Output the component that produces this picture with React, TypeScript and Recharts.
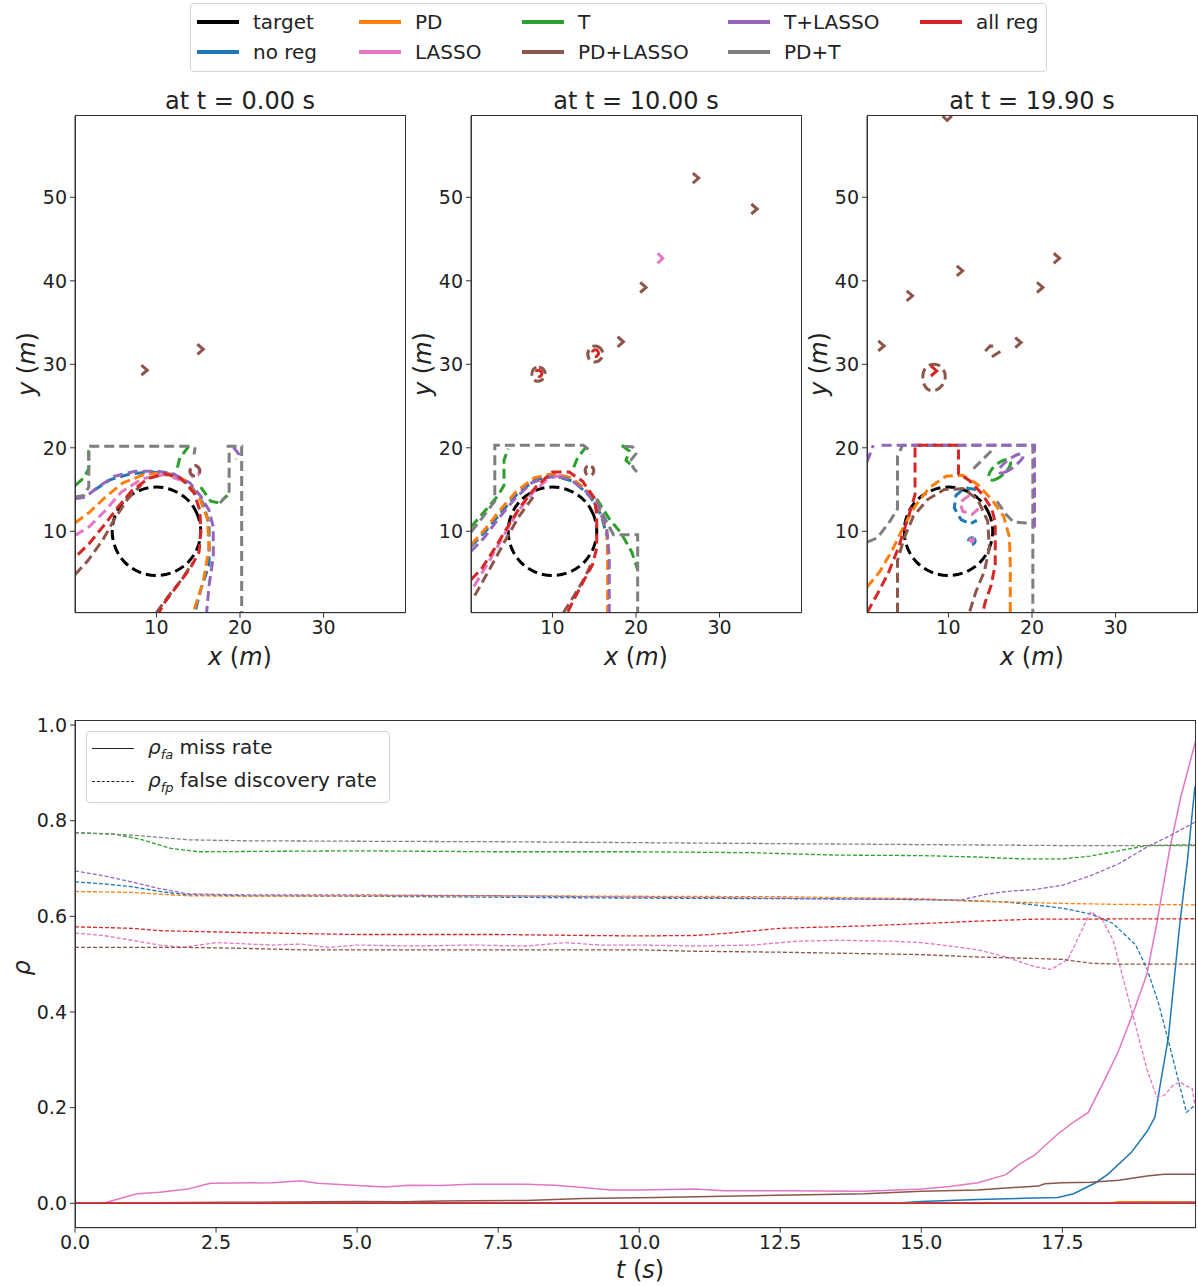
import React from 'react';
import { LineChart, Line, XAxis, YAxis } from 'recharts';

const FONT = '"DejaVu Sans", "Liberation Sans", sans-serif';

const C = {
  target: '#000000',
  noreg: '#1f77b4',
  pd: '#ff7f0e',
  lasso: '#e377c2',
  t: '#2ca02c',
  pdlasso: '#8c564b',
  tlasso: '#9467bd',
  pdt: '#7f7f7f',
  all: '#d62728',
};

const LEGEND_ITEMS = [
  { label: 'target', color: C.target, col: 0, row: 0 },
  { label: 'no reg', color: C.noreg, col: 0, row: 1 },
  { label: 'PD', color: C.pd, col: 1, row: 0 },
  { label: 'LASSO', color: C.lasso, col: 1, row: 1 },
  { label: 'T', color: C.t, col: 2, row: 0 },
  { label: 'PD+LASSO', color: C.pdlasso, col: 2, row: 1 },
  { label: 'T+LASSO', color: C.tlasso, col: 3, row: 0 },
  { label: 'PD+T', color: C.pdt, col: 3, row: 1 },
  { label: 'all reg', color: C.all, col: 4, row: 0 },
];
const LEGEND_COLS = [197, 359, 522, 728, 920];
const LEGEND_ROWS = [22, 52];

const PANEL_TITLES = ['at t = 0.00 s', 'at t = 10.00 s', 'at t = 19.90 s'];
const PANEL_LEFTS = [0, 396, 792];
const X_TICKS = [10, 20, 30];
const Y_TICKS = [10, 20, 30, 40, 50];

// target circle, same in every panel
const TARGET = [[15.45, 10], [15.0, 12.1], [13.85, 13.85], [12.1, 15.0], [10, 15.45], [7.9, 15.0], [6.15, 13.85], [5.0, 12.1], [4.55, 10], [5.0, 7.9], [6.15, 6.15], [7.9, 5.0], [10, 4.55], [12.1, 5.0], [13.85, 6.15], [15.0, 7.9]];

// ---- t = 0.00 s
const P0_NOREG = [[2.5, 14.9], [4.5, 16.2], [7, 16.9], [9.5, 17.1], [12, 16.8], [14, 15.6], [15.5, 13.5], [16.3, 11], [16.3, 6], [15.3, 3], [14.6, 0.25]];
const P0_PD = [[0.25, 11], [2, 12.3], [4, 14.2], [6, 15.8], [8.5, 16.8], [11, 17], [13.4, 16.1], [15.2, 13.9], [16.1, 11.5], [16.3, 8], [15.6, 4], [14.4, 0.25]];
const P0_LASSO = [[0.25, 9.5], [2, 10.6], [3.8, 12.4], [5.8, 14.7], [8.3, 16.3], [11, 16.8], [13.3, 16]];
const P0_LASSO_LOOP = [[14.0, 17.7], [14.9, 17.9], [15.3, 17.1], [14.8, 16.4], [14.0, 16.6]];
const P0_T_A = [[0.3, 15.5], [1.3, 16.4], [1.9, 17.5], [1.9, 19.6], [2.5, 20.2]];
const P0_T_B = [[13.9, 20.2], [12.8, 18.8], [12.4, 17.2]];
const P0_T_C = [[15.3, 15.3], [16.5, 13.6], [17.5, 13.4], [18.5, 14.3]];
const P0_PDLASSO_A = [[0.25, 4.8], [1.8, 6.5], [3.6, 9], [5, 11.5], [6.5, 13.8], [8.2, 15.6]];
const P0_PDLASSO_B = [[10.0, 0.25], [11.4, 2.2], [13, 4.2], [14.3, 6.2]];
const P0_PDLASSO_LOOP = [[13.9, 17.5], [14.7, 18.1], [15.4, 17.3], [14.9, 16.5], [14.1, 16.7]];
const P0_CHEV_1 = [[8.2, 29.9], [8.9, 29.3], [8.2, 28.7]];
const P0_CHEV_2 = [[14.9, 32.4], [15.6, 31.8], [14.9, 31.2]];
const P0_TLASSO_A = [[0.25, 13.9], [1.5, 14.1], [3, 15.3], [5, 16.6], [7.5, 17.2], [10, 17.2], [12, 16.9], [14, 15.8], [15.3, 14.2], [16.3, 12.5], [16.8, 10.5], [16.8, 7], [16.3, 3.5], [16.0, 0.25]];
const P0_TLASSO_B = [[19.2, 20.1], [19.9, 19.2], [19.5, 18.6]];
const P0_PDT_A = [[0.25, 14.1], [1.3, 14.3], [1.9, 15.3], [1.9, 20.2], [13.9, 20.2], [14.6, 19.9], [14.5, 19.2]];
const P0_PDT_B = [[18.4, 20.2], [20.2, 20.2], [20.2, 0.25]];
const P0_PDT_C = [[18.7, 19.4], [18.7, 14.6], [17.6, 13.4]];
const P0_ALL = [[0.6, 7.2], [2, 8.6], [3.8, 10.8], [5.3, 12.8], [7, 14.8], [9, 16.3], [11, 16.9], [13, 16.3], [14.5, 14.6], [15.2, 12.5], [15.3, 10], [15.1, 7.5], [14.0, 5.5], [12.5, 3.5], [11, 1.5], [10.3, 0.25]];

// ---- t = 10.00 s
const P1_NOREG = [[0.25, 8.2], [2, 10], [3.8, 12.2], [5.8, 14.5], [8, 16.2], [10.3, 16.6], [12.5, 16], [14.5, 14.2], [15.8, 12], [16.5, 9.5]];
const P1_PD = [[0.25, 8.4], [1.9, 10.2], [3.7, 12.5], [5.6, 14.7], [7.8, 16.4], [10, 16.9], [12.3, 16.4], [14.2, 14.8], [15.7, 12.5], [16.5, 10], [16.6, 7], [16.6, 0.25]];
const P1_LASSO = [[0.6, 3.4], [2.3, 6.2], [4, 9.2], [5.8, 12.3], [7.7, 14.7], [9.5, 16.3], [11.5, 16.8]];
const P1_LASSO_CHEV = [[22.6, 43.3], [23.2, 42.7], [22.6, 42.1]];
const P1_T_A = [[0.25, 10.5], [1.8, 12.3], [3.5, 14.3], [4.2, 15.5], [4.2, 18.5], [4.7, 19.9]];
const P1_T_B = [[14.1, 20.2], [13.0, 18.8], [12.4, 17.3]];
const P1_T_C = [[15.3, 13.9], [16.8, 11.5], [18.2, 9.8], [19.5, 7.5], [20.2, 5.4]];
const P1_T_D = [[18.3, 20.3], [19.2, 19.6], [18.8, 18.5], [19.6, 17.8]];
const P1_PDLASSO_A = [[0.7, 2.3], [2.5, 5.5], [4.3, 8.8], [6, 11.8], [7.7, 14.1]];
const P1_PDLASSO_B = [[11.3, 0.25], [12.6, 2.3], [13.9, 4.5], [14.8, 6.5]];
const P1_PDLASSO_LOOP_1 = [[13.9, 17.8], [14.7, 17.9], [15.1, 17.2], [14.6, 16.5], [13.9, 16.8]];
const P1_PDLASSO_LOOP_2 = [[14.2, 31.9], [15.2, 32.4], [16.1, 31.7], [16.0, 30.6], [15.0, 30.1], [14.2, 30.6]];
const P1_PDLASSO_LOOP_3 = [[7.5, 29.4], [8.4, 29.8], [9.2, 29.3], [9.1, 28.3], [8.2, 27.8], [7.5, 28.3]];
const P1_CHEV_1 = [[26.8, 52.9], [27.5, 52.3], [26.8, 51.7]];
const P1_CHEV_2 = [[33.8, 49.2], [34.5, 48.6], [33.8, 48.0]];
const P1_CHEV_3 = [[20.5, 39.8], [21.2, 39.2], [20.5, 38.6]];
const P1_CHEV_4 = [[17.8, 33.3], [18.5, 32.7], [17.8, 32.1]];
const P1_TLASSO = [[0.25, 7.6], [1.8, 9.2], [3.6, 11.6], [5.5, 13.9], [7.5, 15.8], [9.7, 16.6], [12, 16.3], [14, 14.8], [15.6, 12.6], [16.5, 10.3], [16.8, 7], [16.8, 0.25]];
const P1_PDT_A = [[0.25, 9.9], [1.6, 11.6], [3.1, 13.6], [3.1, 20.3], [13.7, 20.3], [14.3, 19.8], [14.5, 19.2]];
const P1_PDT_B = [[15.3, 13.8], [16.3, 11.5], [17.3, 9.6], [20.2, 9.6], [20.2, 0.25]];
const P1_PDT_C = [[18.6, 20.2], [19.6, 20.1], [20.0, 19.3], [19.3, 18.4], [19.7, 17.6], [20.1, 17.1]];
const P1_ALL = [[0.25, 4.2], [1.5, 5.5], [3, 7.8], [4.5, 10.3], [6.2, 13], [8, 15.3], [10, 17.1], [12, 17.1], [13.6, 16.0], [15.0, 14.0], [15.3, 12], [15.3, 8], [14.8, 6], [13.6, 3.8], [12.4, 1.5], [11.8, 0.25]];
const P1_ALL_LOOP_1 = [[7.8, 29.1], [8.4, 29.4], [8.9, 28.9], [8.4, 28.3]];
const P1_ALL_LOOP_2 = [[14.6, 31.5], [15.2, 31.9], [15.7, 31.3], [15.1, 30.7]];

// ---- t = 19.90 s
const P2_NOREG_A = [[13.3, 15.0], [12.0, 15.2], [10.9, 14.3], [10.7, 12.8], [11.5, 11.4], [12.6, 10.9], [13.4, 11.3]];
const P2_NOREG_LOOP = [[12.2, 8.9], [12.8, 9.4], [13.4, 8.9], [12.8, 8.2]];
const P2_PD = [[0.25, 3.3], [1.8, 5.2], [3.3, 7.8], [4.6, 10.5], [6, 13], [7.7, 15.2], [9.7, 16.6], [11.7, 16.7], [13.5, 15.6], [15.2, 13.8], [16.6, 11.8], [17.3, 9.3], [17.4, 6], [17.4, 0.25]];
const P2_LASSO_A = [[12.5, 14.3], [11.4, 13.5], [11.7, 12.4], [12.8, 12.0], [13.6, 12.7]];
const P2_LASSO_LOOP = [[12.5, 9.0], [12.8, 9.3], [13.1, 9.0], [12.8, 8.6]];
const P2_T_LOOP = [[14.6, 16.2], [15.5, 16.0], [16.8, 16.9], [17.6, 18.1], [17.3, 18.7], [16.3, 18.5], [15.0, 17.4]];
const P2_PDLASSO_A = [[3.9, 0.25], [3.9, 6.5], [4.7, 9.2], [5.8, 11.8], [7.5, 13.8], [9.5, 15.0], [11.8, 15.1], [13.5, 13.8], [14.7, 11.2], [14.9, 8], [14.3, 5.2], [13.3, 2.8], [12.5, 0.25]];
const P2_PDLASSO_LOOP = [[6.8, 29.2], [7.8, 30.1], [9.0, 30.0], [9.8, 28.8], [9.4, 27.4], [8.2, 26.6], [7.0, 27.2]];
const P2_PDLASSO_ARC_1 = [[14.4, 31.6], [15.0, 32.2], [15.9, 32.1]];
const P2_PDLASSO_ARC_2 = [[15.2, 30.9], [16.3, 31.6]];
const P2_CHEV_1 = [[1.6, 32.8], [2.3, 32.2], [1.6, 31.6]];
const P2_CHEV_2 = [[5.0, 38.8], [5.7, 38.2], [5.0, 37.6]];
const P2_CHEV_3 = [[11.0, 41.8], [11.7, 41.2], [11.0, 40.6]];
const P2_CHEV_4 = [[20.6, 39.8], [21.3, 39.2], [20.6, 38.6]];
const P2_CHEV_5 = [[22.6, 43.3], [23.3, 42.7], [22.6, 42.1]];
const P2_CHEV_6 = [[18.0, 33.2], [18.7, 32.6], [18.0, 32.0]];
const P2_CHEV_7 = [[9.3, 59.75], [9.85, 59.2], [10.4, 59.75]];
const P2_TLASSO_A = [[2.0, 20.3], [20.3, 20.3], [20.3, 10.4]];
const P2_TLASSO_B = [[0.25, 18.3], [0.7, 19.5], [1.0, 20.3]];
const P2_TLASSO_LOOP = [[15.9, 17.0], [16.6, 16.9], [17.9, 17.7], [19.0, 18.8], [19.0, 19.3], [18.3, 19.3], [17, 18.5], [16.0, 17.5]];
const P2_PDT_A = [[0.25, 8.7], [1.5, 9.2], [3, 11.2], [3.9, 12.7], [3.9, 19], [4.5, 20.3], [20.1, 20.3], [20.1, 0.25]];
const P2_PDT_B = [[13.0, 17.5], [14.5, 19.0], [15.5, 20.0]];
const P2_PDT_C = [[15.8, 13.6], [16.9, 12], [17.8, 11.1], [19.2, 11.0], [19.8, 11.5]];
const P2_ALL = [[0.25, 0.25], [1.5, 2.5], [2.8, 5], [4.0, 8], [4.9, 10.8], [5.6, 13], [6.0, 14.4], [6.0, 20.3], [11.2, 20.3], [11.2, 16.9], [12.5, 16.1], [14.0, 14.5], [15.2, 12.7], [15.6, 11], [15.6, 6], [15.1, 3.5], [14.4, 1.5], [14.1, 0.25]];
const P2_ALL_CHEV = [[7.9, 29.8], [8.6, 29.2], [7.9, 28.6]];

type Contour = { color: string; pts: number[][]; loop?: boolean; solid?: boolean };

const PANELS: Contour[][] = [
  [
    { color: C.target, pts: TARGET, loop: true },
    { color: C.noreg, pts: P0_NOREG },
    { color: C.pd, pts: P0_PD },
    { color: C.lasso, pts: P0_LASSO },
    { color: C.lasso, pts: P0_LASSO_LOOP, loop: true },
    { color: C.t, pts: P0_T_A },
    { color: C.t, pts: P0_T_B },
    { color: C.t, pts: P0_T_C },
    { color: C.pdlasso, pts: P0_PDLASSO_A },
    { color: C.pdlasso, pts: P0_PDLASSO_B },
    { color: C.pdlasso, pts: P0_PDLASSO_LOOP, loop: true },
    { color: C.pdlasso, pts: P0_CHEV_1, solid: true },
    { color: C.pdlasso, pts: P0_CHEV_2, solid: true },
    { color: C.tlasso, pts: P0_TLASSO_A },
    { color: C.tlasso, pts: P0_TLASSO_B },
    { color: C.pdt, pts: P0_PDT_A },
    { color: C.pdt, pts: P0_PDT_B },
    { color: C.pdt, pts: P0_PDT_C },
    { color: C.all, pts: P0_ALL },
  ],
  [
    { color: C.target, pts: TARGET, loop: true },
    { color: C.noreg, pts: P1_NOREG },
    { color: C.pd, pts: P1_PD },
    { color: C.lasso, pts: P1_LASSO },
    { color: C.lasso, pts: P1_LASSO_CHEV, solid: true },
    { color: C.t, pts: P1_T_A },
    { color: C.t, pts: P1_T_B },
    { color: C.t, pts: P1_T_C },
    { color: C.t, pts: P1_T_D },
    { color: C.pdlasso, pts: P1_PDLASSO_A },
    { color: C.pdlasso, pts: P1_PDLASSO_B },
    { color: C.pdlasso, pts: P1_PDLASSO_LOOP_1, loop: true },
    { color: C.pdlasso, pts: P1_PDLASSO_LOOP_2, loop: true },
    { color: C.pdlasso, pts: P1_PDLASSO_LOOP_3, loop: true },
    { color: C.pdlasso, pts: P1_CHEV_1, solid: true },
    { color: C.pdlasso, pts: P1_CHEV_2, solid: true },
    { color: C.pdlasso, pts: P1_CHEV_3, solid: true },
    { color: C.pdlasso, pts: P1_CHEV_4, solid: true },
    { color: C.tlasso, pts: P1_TLASSO },
    { color: C.pdt, pts: P1_PDT_A },
    { color: C.pdt, pts: P1_PDT_B },
    { color: C.pdt, pts: P1_PDT_C },
    { color: C.all, pts: P1_ALL },
    { color: C.all, pts: P1_ALL_LOOP_1, loop: true },
    { color: C.all, pts: P1_ALL_LOOP_2, loop: true },
  ],
  [
    { color: C.target, pts: TARGET, loop: true },
    { color: C.noreg, pts: P2_NOREG_A },
    { color: C.noreg, pts: P2_NOREG_LOOP, loop: true },
    { color: C.pd, pts: P2_PD },
    { color: C.lasso, pts: P2_LASSO_A },
    { color: C.lasso, pts: P2_LASSO_LOOP, loop: true },
    { color: C.t, pts: P2_T_LOOP, loop: true },
    { color: C.pdlasso, pts: P2_PDLASSO_A },
    { color: C.pdlasso, pts: P2_PDLASSO_LOOP, loop: true },
    { color: C.pdlasso, pts: P2_PDLASSO_ARC_1 },
    { color: C.pdlasso, pts: P2_PDLASSO_ARC_2 },
    { color: C.pdlasso, pts: P2_CHEV_1, solid: true },
    { color: C.pdlasso, pts: P2_CHEV_2, solid: true },
    { color: C.pdlasso, pts: P2_CHEV_3, solid: true },
    { color: C.pdlasso, pts: P2_CHEV_4, solid: true },
    { color: C.pdlasso, pts: P2_CHEV_5, solid: true },
    { color: C.pdlasso, pts: P2_CHEV_6, solid: true },
    { color: C.pdlasso, pts: P2_CHEV_7, solid: true },
    { color: C.pdt, pts: P2_PDT_A },
    { color: C.pdt, pts: P2_PDT_B },
    { color: C.pdt, pts: P2_PDT_C },
    { color: C.tlasso, pts: P2_TLASSO_A },
    { color: C.tlasso, pts: P2_TLASSO_B },
    { color: C.tlasso, pts: P2_TLASSO_LOOP, loop: true },
    { color: C.all, pts: P2_ALL },
    { color: C.all, pts: P2_ALL_CHEV, solid: true },
  ],
];

// ---- bottom chart: rates over time [t, rho]
const T_TICKS = [0, 2.5, 5, 7.5, 10, 12.5, 15, 17.5];
const RHO_TICKS = [0, 0.2, 0.4, 0.6, 0.8, 1.0];

const MISS_NOREG = [[0, 0], [14.5, 0], [15, 0.004], [16, 0.008], [17, 0.011], [17.42, 0.012], [17.7, 0.02], [18.09, 0.043], [18.31, 0.061], [18.72, 0.106], [19.0, 0.15], [19.14, 0.18], [19.23, 0.245], [19.38, 0.348], [19.58, 0.583], [19.72, 0.72], [19.85, 0.872]];
const FDR_NOREG = [[0, 0.672], [0.5, 0.668], [1, 0.662], [1.5, 0.652], [2, 0.645], [3, 0.643], [5, 0.642], [7.5, 0.64], [10, 0.638], [12.5, 0.637], [15, 0.635], [15.8, 0.633], [16.5, 0.63], [17, 0.624], [17.5, 0.617], [18, 0.605], [18.4, 0.585], [18.8, 0.54], [19.0, 0.49], [19.2, 0.42], [19.4, 0.33], [19.55, 0.26], [19.7, 0.19], [19.85, 0.205]];
const MISS_PD = [[0, 0], [18.3, 0], [18.5, 0.003], [19.85, 0.003]];
const FDR_PD = [[0, 0.652], [1, 0.65], [2, 0.643], [3, 0.642], [5, 0.643], [7.5, 0.643], [10, 0.642], [12.5, 0.641], [15, 0.637], [15.8, 0.632], [16.5, 0.63], [17.5, 0.627], [18.5, 0.625], [19.85, 0.624]];
const MISS_LASSO = [[0, 0], [0.5, 0], [0.8, 0.01], [1.1, 0.02], [1.5, 0.023], [2, 0.03], [2.4, 0.042], [3.5, 0.043], [4, 0.047], [4.3, 0.042], [5, 0.037], [5.5, 0.034], [5.9, 0.038], [6.5, 0.037], [7, 0.04], [8, 0.04], [8.5, 0.038], [9, 0.033], [9.5, 0.028], [10, 0.028], [11, 0.03], [11.5, 0.026], [12.5, 0.026], [14, 0.025], [15, 0.03], [15.5, 0.035], [16, 0.043], [16.5, 0.06], [16.74, 0.082], [17, 0.1], [17.42, 0.145], [17.7, 0.17], [17.96, 0.19], [18.3, 0.27], [18.5, 0.32], [18.77, 0.403], [19, 0.48], [19.17, 0.583], [19.4, 0.739], [19.6, 0.85], [19.86, 0.966]];
const FDR_LASSO = [[0, 0.565], [0.5, 0.56], [1, 0.55], [1.5, 0.54], [1.9, 0.535], [2.5, 0.545], [3.5, 0.54], [4, 0.542], [4.5, 0.535], [5, 0.54], [6, 0.538], [7, 0.54], [8, 0.538], [8.7, 0.545], [9.3, 0.54], [10, 0.54], [11, 0.538], [12, 0.54], [12.8, 0.548], [13.5, 0.55], [14.5, 0.548], [15, 0.545], [15.5, 0.538], [16, 0.53], [16.5, 0.515], [17, 0.495], [17.3, 0.489], [17.6, 0.51], [17.8, 0.56], [18.0, 0.61], [18.2, 0.595], [18.4, 0.55], [18.6, 0.46], [18.8, 0.37], [19.0, 0.28], [19.17, 0.223], [19.3, 0.225], [19.45, 0.245], [19.58, 0.254], [19.7, 0.245], [19.8, 0.24], [19.85, 0.205]];
const MISS_T = [[0, 0], [19.85, 0]];
const FDR_T = [[0, 0.775], [0.7, 0.772], [1.2, 0.76], [1.7, 0.742], [2.2, 0.735], [5, 0.737], [7.5, 0.735], [10, 0.735], [12, 0.733], [13.5, 0.728], [15, 0.727], [16, 0.724], [16.8, 0.72], [17.5, 0.72], [18, 0.726], [18.5, 0.737], [19, 0.748], [19.85, 0.75]];
const MISS_PDLASSO = [[0, 0], [2.7, 0.002], [5, 0.004], [5.8, 0.003], [6.5, 0.005], [8, 0.006], [9, 0.01], [10.3, 0.012], [11.5, 0.015], [13, 0.018], [14, 0.02], [15, 0.025], [16, 0.028], [16.5, 0.032], [17.07, 0.036], [17.19, 0.041], [17.5, 0.043], [18, 0.044], [18.5, 0.048], [19, 0.057], [19.3, 0.061], [19.85, 0.061]];
const FDR_PDLASSO = [[0, 0.535], [2, 0.535], [3, 0.533], [4, 0.53], [6, 0.53], [8, 0.53], [10, 0.53], [11, 0.527], [12.5, 0.525], [14, 0.522], [15, 0.52], [16, 0.515], [17, 0.512], [17.5, 0.51], [18, 0.502], [18.5, 0.5], [19.85, 0.5]];
const MISS_TLASSO = [[0, 0], [18.6, 0.001], [19.85, 0.002]];
const FDR_TLASSO = [[0, 0.695], [0.5, 0.685], [1, 0.672], [1.5, 0.658], [2, 0.647], [3, 0.645], [5, 0.645], [7.5, 0.643], [10, 0.64], [12.5, 0.638], [15, 0.635], [15.7, 0.634], [16.1, 0.645], [16.5, 0.652], [17, 0.656], [17.5, 0.665], [18, 0.685], [18.5, 0.71], [19, 0.745], [19.4, 0.768], [19.85, 0.797]];
const MISS_PDT = [[0, 0], [19.85, 0]];
const FDR_PDT = [[0, 0.775], [1, 0.77], [2, 0.76], [3, 0.758], [5, 0.757], [7.5, 0.756], [10, 0.754], [12.5, 0.752], [15, 0.75], [17.5, 0.748], [19.85, 0.748]];
const MISS_ALL = [[0, 0], [19.85, 0]];
const FDR_ALL = [[0, 0.578], [1, 0.575], [1.5, 0.57], [3, 0.566], [5, 0.562], [7.5, 0.562], [9, 0.56], [10, 0.559], [11, 0.56], [11.6, 0.565], [12.5, 0.575], [14, 0.58], [15, 0.585], [16, 0.59], [17, 0.594], [19.85, 0.595]];

const RATE_SERIES = [
  { color: C.noreg, pts: MISS_NOREG, dashed: false },
  { color: C.noreg, pts: FDR_NOREG, dashed: true },
  { color: C.pd, pts: MISS_PD, dashed: false },
  { color: C.pd, pts: FDR_PD, dashed: true },
  { color: C.lasso, pts: MISS_LASSO, dashed: false },
  { color: C.lasso, pts: FDR_LASSO, dashed: true },
  { color: C.t, pts: MISS_T, dashed: false },
  { color: C.t, pts: FDR_T, dashed: true },
  { color: C.pdlasso, pts: MISS_PDLASSO, dashed: false },
  { color: C.pdlasso, pts: FDR_PDLASSO, dashed: true },
  { color: C.tlasso, pts: MISS_TLASSO, dashed: false },
  { color: C.tlasso, pts: FDR_TLASSO, dashed: true },
  { color: C.pdt, pts: MISS_PDT, dashed: false },
  { color: C.pdt, pts: FDR_PDT, dashed: true },
  { color: C.all, pts: MISS_ALL, dashed: false },
  { color: C.all, pts: FDR_ALL, dashed: true },
];

const toRows = (pts: number[][]) => pts.map(([x, y]) => ({ x, y }));

const tickStyle = { fill: '#222', fontSize: 19, fontFamily: FONT };

const Txt = ({ x, y, rotate, size = 24, children }: any) => (
  <div
    style={{
      position: 'absolute',
      left: x,
      top: y,
      transform: `translate(-50%, -50%)${rotate ? ` rotate(${rotate}deg)` : ''}`,
      whiteSpace: 'nowrap',
      fontFamily: FONT,
      fontSize: size,
      color: '#222',
      lineHeight: 1,
    }}
  >
    {children}
  </div>
);

// the axes frame (matplotlib draws all four spines)
const Frame = ({ x, y, w, h }: any) => (
  <div style={{ position: 'absolute', left: x, top: y, width: w, height: h, border: '1px solid #333', boxSizing: 'border-box', pointerEvents: 'none' }} />
);

function ContourPanel({ left, series }: { left: number; series: Contour[] }) {
  return (
    <div style={{ position: 'absolute', left, top: 80 }}>
      <LineChart width={420} height={620} margin={{ top: 35.9, right: 15, left: 25, bottom: 0 }}>
        <XAxis xAxisId="b" type="number" dataKey="x" domain={[0.25, 39.75]} ticks={X_TICKS} allowDataOverflow height={87.3} tickSize={5} tickMargin={3} stroke="#333" tick={tickStyle} />
        <YAxis yAxisId="l" type="number" domain={[0.25, 59.75]} ticks={Y_TICKS} allowDataOverflow width={50} tickSize={5} tickMargin={3} stroke="#333" tick={tickStyle} />
        {series.map((s, i) => (
          <Line
            key={i}
            xAxisId="b"
            yAxisId="l"
            data={toRows(s.pts)}
            dataKey="y"
            type={s.loop ? 'basisClosed' : 'linear'}
            stroke={s.color}
            strokeWidth={3}
            strokeDasharray={s.solid ? undefined : '10 5'}
            dot={false}
            activeDot={false}
            isAnimationActive={false}
          />
        ))}
      </LineChart>
    </div>
  );
}

export default function App() {
  return (
    <div style={{ position: 'absolute', left: 0, top: 0, width: 1198, height: 1286, overflow: 'hidden', background: '#fff', fontFamily: FONT }}>
      {/* top legend */}
      <div style={{ position: 'absolute', left: 190, top: 3, width: 857, height: 69, border: '1px solid #d4d4d4', borderRadius: 4, boxSizing: 'border-box' }} />
      {LEGEND_ITEMS.map((it) => (
        <React.Fragment key={it.label}>
          <div style={{ position: 'absolute', left: LEGEND_COLS[it.col], top: LEGEND_ROWS[it.row] - 2, width: 42, height: 4, background: it.color }} />
          <div style={{ position: 'absolute', left: LEGEND_COLS[it.col] + 56, top: LEGEND_ROWS[it.row] - 11, fontSize: 20, lineHeight: '22px', color: '#222', whiteSpace: 'nowrap' }}>{it.label}</div>
        </React.Fragment>
      ))}

      {PANELS.map((series, i) => (
        <ContourPanel key={i} left={PANEL_LEFTS[i]} series={series} />
      ))}
      {PANEL_TITLES.map((title, i) => (
        <React.Fragment key={title}>
          <Frame x={PANEL_LEFTS[i] + 75} y={115.4} w={330.5} h={497.8} />
          <Txt x={PANEL_LEFTS[i] + 240} y={101}>{title}</Txt>
          <Txt x={PANEL_LEFTS[i] + 240} y={657}><i>x</i> (<i>m</i>)</Txt>
          <Txt x={PANEL_LEFTS[i] + 27} y={364} rotate={-90}><i>y</i> (<i>m</i>)</Txt>
        </React.Fragment>
      ))}

      {/* bottom chart */}
      <div style={{ position: 'absolute', left: 0, top: 700 }}>
        <LineChart width={1198} height={586} margin={{ top: 20, right: 2.7, left: 25, bottom: 0 }}>
          <XAxis xAxisId="b" type="number" dataKey="x" domain={[0, 19.856]} ticks={T_TICKS} allowDataOverflow height={58.3} tickSize={5} tickMargin={3} stroke="#333" tick={tickStyle} tickFormatter={(v: number) => v.toFixed(1)} />
          <YAxis yAxisId="l" type="number" domain={[-0.051, 1.0105]} ticks={RHO_TICKS} allowDataOverflow width={50} tickSize={5} tickMargin={3} stroke="#333" tick={tickStyle} tickFormatter={(v: number) => v.toFixed(1)} />
          {RATE_SERIES.map((s, i) => (
            <Line
              key={i}
              xAxisId="b"
              yAxisId="l"
              data={toRows(s.pts)}
              dataKey="y"
              type="linear"
              stroke={s.color}
              strokeWidth={s.dashed ? 1.3 : 1.5}
              strokeDasharray={s.dashed ? '4 2' : undefined}
              dot={false}
              activeDot={false}
              isAnimationActive={false}
            />
          ))}
        </LineChart>
      </div>
      <Frame x={74.5} y={719.5} w={1121.5} h={508.7} />
      <Txt x={640} y={1270}><i>t</i> (<i>s</i>)</Txt>
      <Txt x={22} y={968} rotate={-90}><i>ρ</i></Txt>

      {/* bottom legend */}
      <div style={{ position: 'absolute', left: 86, top: 731, width: 304, height: 72, border: '1px solid #d4d4d4', borderRadius: 4, boxSizing: 'border-box', background: 'rgba(255,255,255,0.8)' }} />
      <div style={{ position: 'absolute', left: 92, top: 748, width: 42, borderTop: '1.3px solid #222' }} />
      <div style={{ position: 'absolute', left: 92, top: 781, width: 42, borderTop: '1.3px dashed #222' }} />
      <div style={{ position: 'absolute', left: 148, top: 736, fontSize: 20, lineHeight: '22px', color: '#222', whiteSpace: 'nowrap' }}>
        <i>ρ</i><sub style={{ fontSize: 13 }}><i>fa</i></sub> miss rate
      </div>
      <div style={{ position: 'absolute', left: 148, top: 769, fontSize: 20, lineHeight: '22px', color: '#222', whiteSpace: 'nowrap' }}>
        <i>ρ</i><sub style={{ fontSize: 13 }}><i>fp</i></sub> false discovery rate
      </div>
    </div>
  );
}
